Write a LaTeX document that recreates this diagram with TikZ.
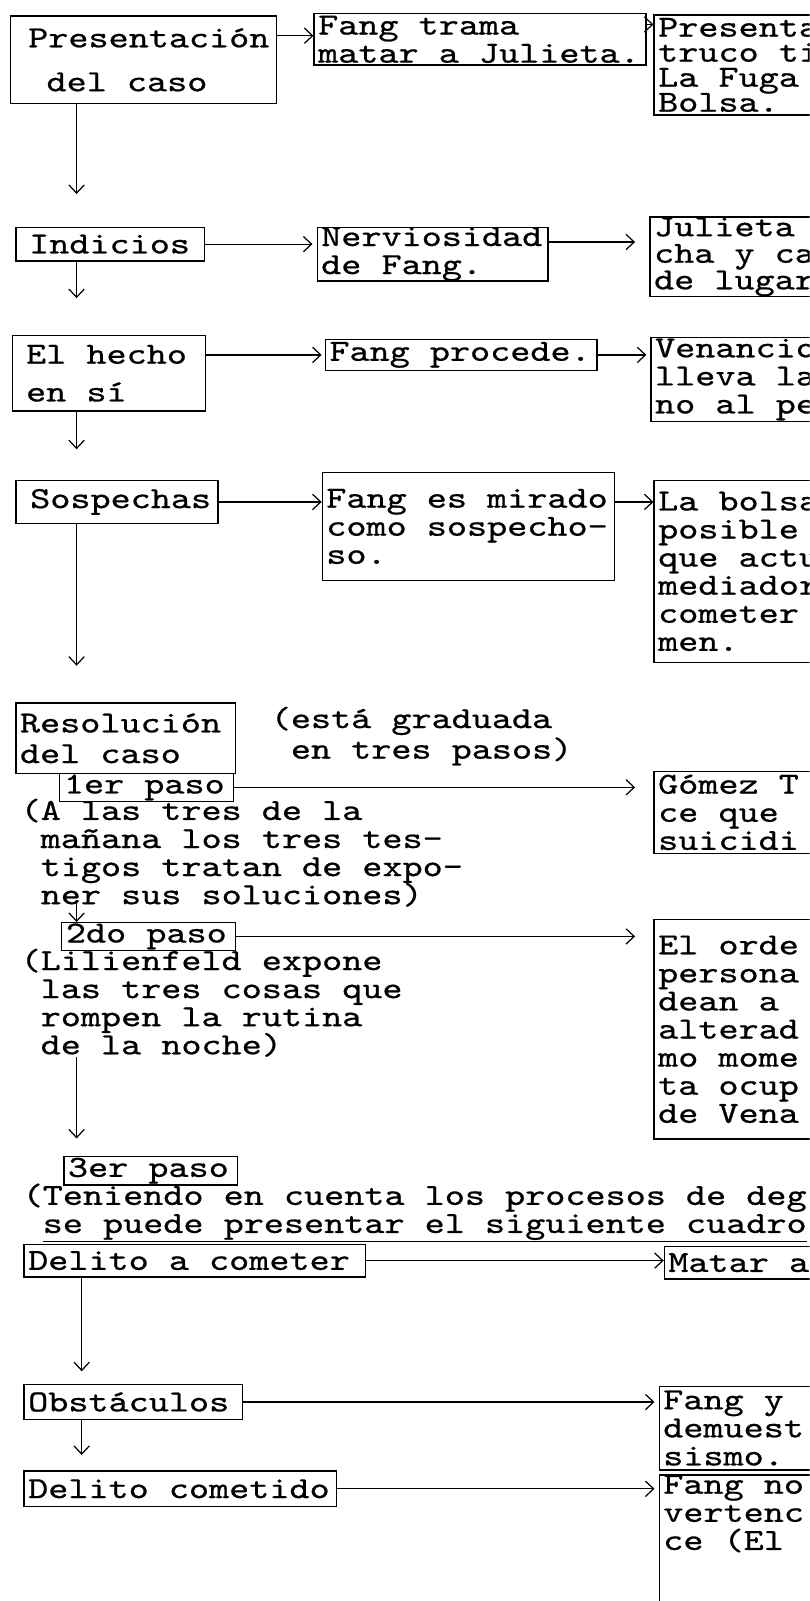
\documentclass[tikz,border=0pt]{standalone}
\usepackage{fontspec}
\usepackage{tikz}
\usetikzlibrary{arrows.meta, positioning}

\newfontfamily\tywfont[Extension=.otf, FakeStretch=1.25, FakeBold=0.7]{lmmono10-regular}
\newcommand{\tyw}{\tywfont\fontsize{30}{27.5}\selectfont\lineskiplimit=-100pt\frenchspacing
  \fontdimen2\font=\fontcharwd\font`a\relax\fontdimen3\font=0pt\fontdimen4\font=0pt\relax}
\newcommand{\ind}{\hspace*{\fontdimen2\font}}

\begin{document}
\begin{tikzpicture}[x=1pt, y=-1pt,
    pitch/.style={execute at begin node={\spaceskip=\fontdimen2\font\xspaceskip=\fontdimen2\font\relax}},
    box/.style 2 args={draw, line width=1.2pt, font=\tyw, pitch, anchor=north west, inner xsep=4pt, inner ysep=0pt, text width=#1, minimum height=#2},
    txt/.style={font=\tyw, pitch, anchor=north west, inner sep=0pt, text width=790pt},
    arr/.style={-{Straight Barb[length=8pt, width=15pt]}, line width=1.2pt}
]
    \useasboundingbox (0,0) rectangle (793,1568);
    \clip (0,0) rectangle (793,1568);
    \fill[white] (0,0) rectangle (793,1568);
    \coordinate (spine) at (75,0);
    \coordinate (spineb) at (80,0);

    % Columna izquierda y cajas de la derecha, fila por fila
    \node[box={252pt}{86pt}] (pres) at (10,15) {\hspace*{13pt}Presentación\\[15.5pt]\hspace*{31pt}del caso};
    \node[box={317pt}{50pt}] (trama) at (307,13) {Fang trama\\matar a Julieta.};
    \node[box={200pt}{98pt}] (truco) at (640,14) {Presenta\\[-3pt]truco ti\\[-3pt]La Fuga\\[-3pt]Bolsa.};

    \node[box={177pt}{33pt}] (indicios) at (15,222) {\hspace*{9pt}Indicios};
    \node[box={218pt}{50pt}] (nervio) at (310,222) {Nerviosidad\\de Fang.};
    \node[box={200pt}{78pt}] (julieta) at (636,212) {Julieta\\[-1.5pt]cha y ca\\[-1.5pt]de lugar};

    \node[box={181pt}{74pt}] (hecho) at (12,328) {\hspace*{9pt}El hecho\\[9.5pt]\hspace*{9pt}en sí};
    \node[box={258pt}{30pt}] (procede) at (318,332) {Fang procede.};
    \node[box={200pt}{82pt}] (venancio) at (637,330) {Venancio\\lleva la\\no al pe};

    \node[box={190pt}{42pt}] (sospechas) at (15,470) {\hspace*{10pt}Sospechas};
    \node[box={278pt}{106pt}] (mirado) at (315,462) {Fang es mirado\\como sospecho-\\so.};
    \node[box={200pt}{178pt}] (bolsa) at (640,470) {La bolsa\\posible\\que actu\\mediador\\cometer\\men.};

    \node[box={207pt}{69pt}] (resol) at (15,688) {Resolución\\[2.5pt]del caso};
    \node[txt, text width=500pt] (grad) at (265,692) {(está graduada\\[2.5pt]\ind en tres pasos)};

    \node[box={162pt}{27pt}] (paso1) at (58,757) {1er paso};
    \node[box={200pt}{80pt}] (gomez) at (640,755) {Gómez T\\ce que\\suicidi};
    \node[txt] (para1) at (20,782) {(A las tres de la\\\ind mañana los tres tes-\\\ind tigos tratan de expo-\\\ind ner sus soluciones)};

    \node[box={162pt}{27pt}] (paso2) at (60,903) {2do paso};
    \node[box={200pt}{215pt}] (orden) at (640,900) {El orde\\persona\\dean a\\alterad\\mo mome\\ta ocup\\de Vena};
    \node[txt] (para2) at (20,929) {(Lilienfeld expone\\\ind las tres cosas que\\\ind rompen la rutina\\\ind de la noche)};

    \node[box={162pt}{28pt}] (paso3) at (62,1132) {3er paso};
    \node[txt] (cuadro) at (22,1159) {(Teniendo en cuenta los procesos de deg\\\ind\underline{se puede presentar el siguiente cuadro}};

    \node[box={326pt}{32pt}] (delito1) at (23,1218) {Delito a cometer};
    \node[box={200pt}{32pt}] (matar) at (650,1220) {Matar a};

    \node[box={206pt}{35pt}] (obst) at (23,1355) {Obstáculos};
    \node[box={200pt}{82pt}] (fangy) at (645,1357) {Fang y\\demuest\\sismo.};

    \node[box={298pt}{35pt}] (delito2) at (23,1440) {Delito cometido};
    \node[box={200pt}{0pt}, text depth=140pt] (fangno) at (645,1444) {Fang no\\vertenc\\ce (El};

    % Flechas horizontales
    \draw[arr] ([yshift=-20pt]pres.north east) coordinate (a) -- (a -| trama.west);
    \draw[arr] ([yshift=-11pt]trama.north east) coordinate (a) -- (a -| truco.west);
    \draw[arr, shorten >=4pt] (indicios.east) -- (indicios.east -| nervio.west);
    \draw[arr, shorten >=14pt] ([yshift=-15pt]nervio.north east) coordinate (a) -- (a -| julieta.west);
    \draw[arr, shorten >=3pt] (procede.west -| hecho.east) -- (procede.west);
    \draw[arr, shorten >=4pt] (procede.east) -- (procede.east -| venancio.west);
    \draw[arr] (sospechas.east) -- (sospechas.east -| mirado.west);
    \draw[arr] (sospechas.east -| mirado.east) coordinate (a) -- (a -| bolsa.west);
    \draw[arr, shorten >=18pt] (paso1.east) -- (paso1.east -| gomez.west);
    \draw[arr, shorten >=18pt] (paso2.east) -- (paso2.east -| orden.west);
    \draw[arr] (delito1.east) -- (delito1.east -| matar.west);
    \draw[arr, shorten >=4pt] (obst.east) -- (obst.east -| fangy.west);
    \draw[arr, shorten >=4pt] (delito2.east) -- (delito2.east -| fangno.west);

    % Flechas verticales
    \draw[arr, shorten >=32pt] (spine |- pres.south) -- (spine |- indicios.north);
    \draw[arr, shorten >=36pt] (spine |- indicios.south) -- (spine |- hecho.north);
    \draw[arr, shorten >=30pt] (spine |- hecho.south) -- (spine |- sospechas.north);
    \draw[arr, shorten >=36pt] (spine |- sospechas.south) -- (spine |- resol.north);
    \draw[arr] ([yshift=6pt]spine |- para1.south) -- (spine |- paso2.north);
    \draw[arr, shorten >=17pt] (spine |- para2.south) -- (spine |- paso3.north);
    \draw[arr, shorten >=12pt] (spineb |- delito1.south) -- (spineb |- obst.north);
    \draw[arr, shorten >=15pt] (spineb |- obst.south) -- (spineb |- delito2.north);
\end{tikzpicture}
\end{document}
